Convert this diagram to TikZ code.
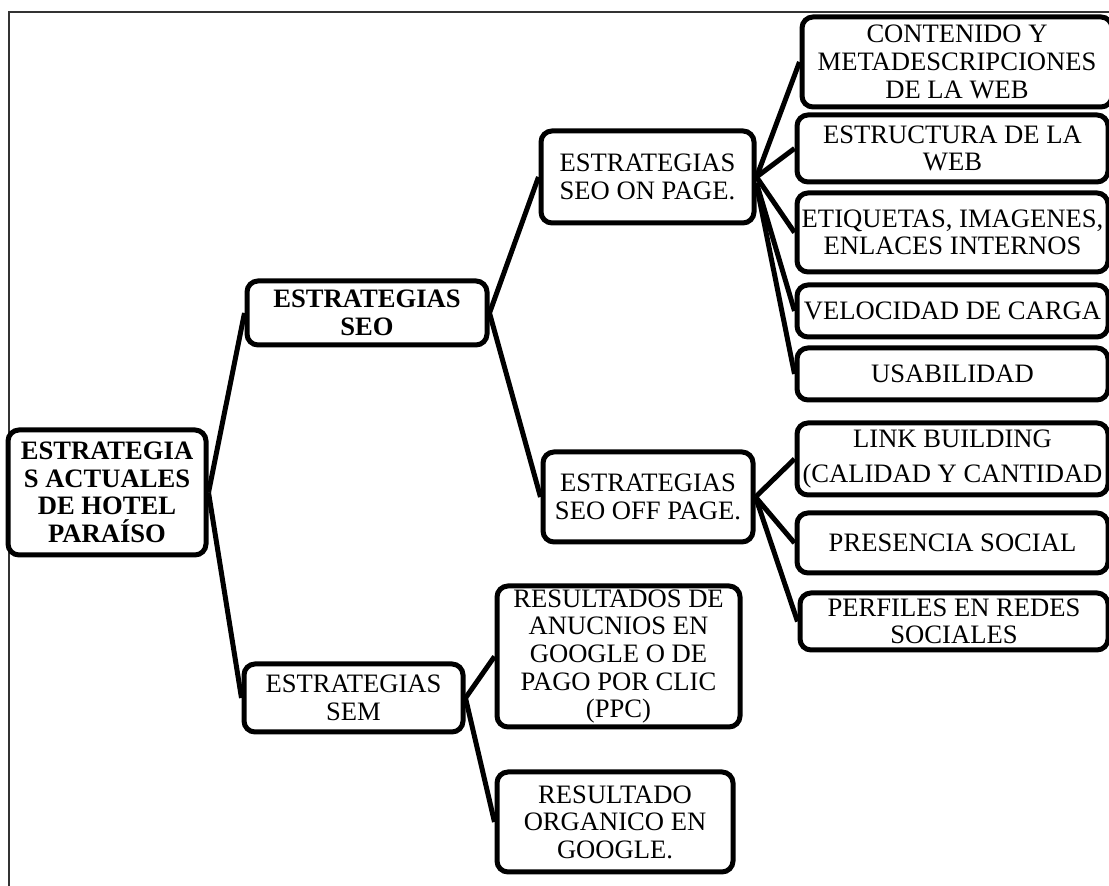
\documentclass[tikz,border=0pt]{standalone}
\usepackage{fontspec}
\setmainfont{Liberation Serif}
\begin{document}
\begin{tikzpicture}[x=0.5pt,y=-0.5pt,
  txt/.style={font=\fontsize{13.3pt}{13.8pt}\selectfont},
  box/.style={draw=black, line width=2.5pt, rounded corners=5.5pt, align=center,
    inner sep=0pt, txt, fill=white},
  boldbox/.style={box, font=\fontsize{13.3pt}{13.8pt}\selectfont\bfseries},
  conn/.style={line width=2.5pt, black},
  frameline/.style={line width=1pt, black!80}]
\useasboundingbox (0,0) rectangle (1109,886);
\draw[frameline] (9,886) -- (9,12) -- (1112,12);
% nodes
\node[boldbox, minimum width=99pt, minimum height=62.5pt] (root) at (107,492.5) {ESTRATEGIA\\S ACTUALES\\DE HOTEL\\PARAÍSO};
\node[boldbox, minimum width=120pt, minimum height=32pt] (seo) at (367,313) {ESTRATEGIAS\\SEO};
\node[box, minimum width=106.5pt, minimum height=46pt] (on) at (647.5,177) {ESTRATEGIAS\\SEO ON PAGE.};
\node[box, minimum width=105pt, minimum height=45pt] (off) at (648,497) {ESTRATEGIAS\\SEO OFF PAGE.};
\node[box, minimum width=109.5pt, minimum height=34pt] (sem) at (353.5,698) {ESTRATEGIAS\\SEM};
\node[box, minimum width=121.5pt, minimum height=70.5pt] (ppc) at (618.5,656.5) {RESULTADOS DE\\ANUCNIOS EN\\GOOGLE O DE\\PAGO POR CLIC\\(PPC)};
\node[box, minimum width=118pt, minimum height=50pt] (org) at (615,822) {RESULTADO\\ORGANICO EN\\GOOGLE.};
\node[box, minimum width=155pt, minimum height=45pt] (c1) at (957,62) {CONTENIDO Y\\METADESCRIPCIONES\\DE LA WEB};
\node[box, minimum width=155.5pt, minimum height=33.5pt] (c2) at (952.5,148.5) {ESTRUCTURA DE LA\\WEB};
\node[box, minimum width=155.5pt, minimum height=39.5pt] (c3) at (952.5,232.5) {ETIQUETAS, IMAGENES,\\ENLACES INTERNOS};
\node[box, minimum width=155.5pt, minimum height=26pt] (c4) at (952.5,311) {VELOCIDAD DE CARGA};
\node[box, minimum width=155.5pt, minimum height=26pt] (c5) at (952.5,374) {USABILIDAD};
\node[box, minimum width=155.5pt, minimum height=36pt] (d1) at (952.5,459) {LINK BUILDING\\[4pt](CALIDAD Y CANTIDAD};
\node[box, minimum width=155.5pt, minimum height=30pt] (d2) at (952.5,543) {PRESENCIA SOCIAL};
\node[box, minimum width=154pt, minimum height=28.5pt] (d3) at (954,621.5) {PERFILES EN REDES\\SOCIALES};
% connectors
\draw[conn] (root.east) -- (seo.west);
\draw[conn] (root.east) -- (sem.west);
\draw[conn] (seo.east) -- (on.west);
\draw[conn] (seo.east) -- (off.west);
\draw[conn] (on.east) -- (c1.west);
\draw[conn] (on.east) -- (c2.west);
\draw[conn] (on.east) -- (c3.west);
\draw[conn] ([yshift=-3pt]on.east) -- (c4.west);
\draw[conn] ([yshift=-4pt]on.east) -- (c5.west);
\draw[conn] (off.east) -- (d1.west);
\draw[conn] (off.east) -- (d2.west);
\draw[conn] (off.east) -- (d3.west);
\draw[conn] (sem.east) -- (ppc.west);
\draw[conn] (sem.east) -- (org.west);
\end{tikzpicture}
\end{document}
